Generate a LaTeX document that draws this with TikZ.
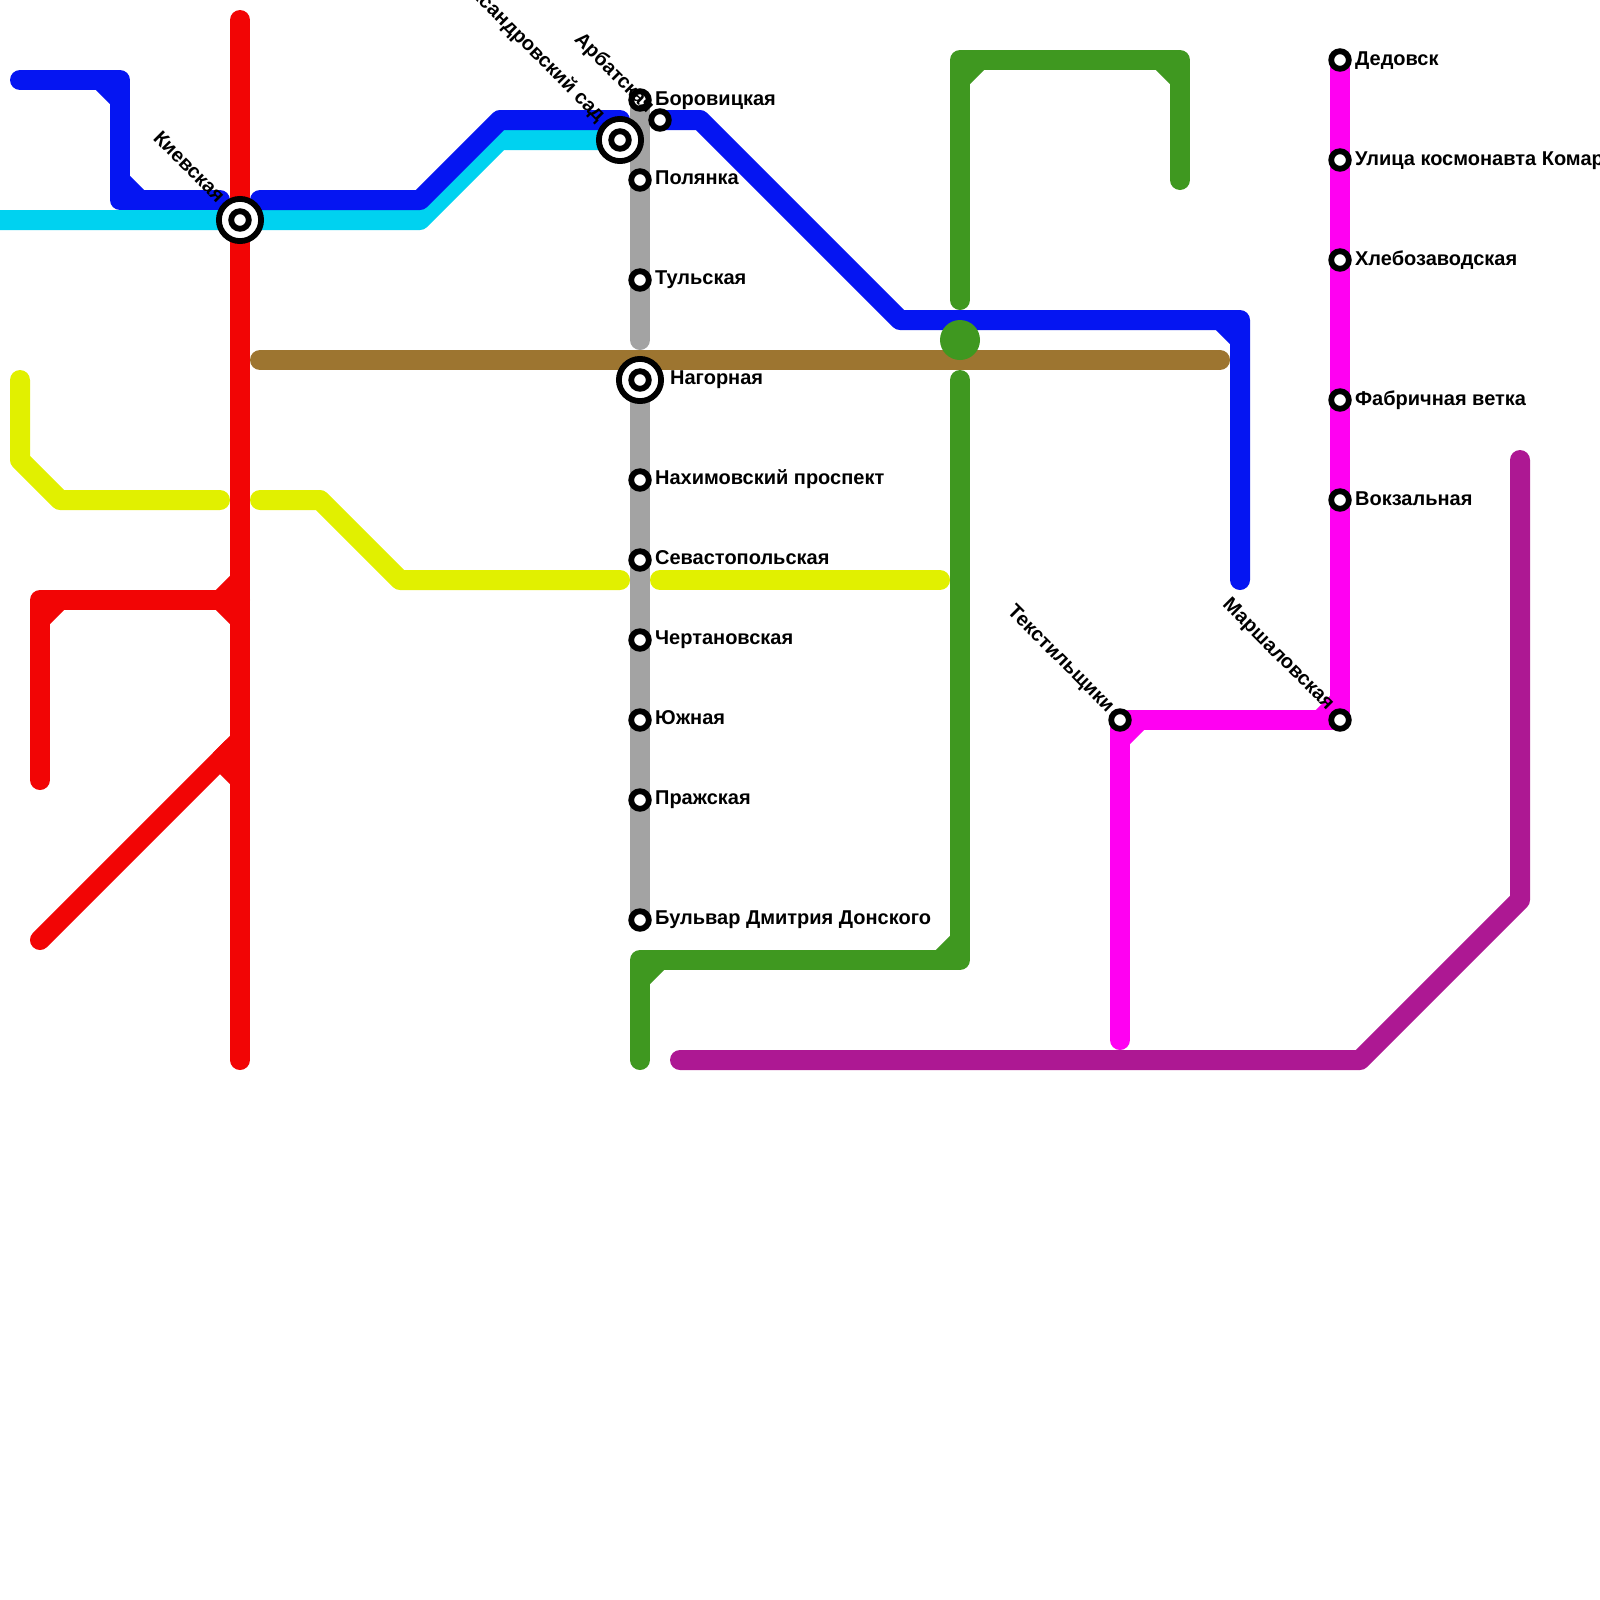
\documentclass[tikz,border=0pt]{standalone}
\usepackage{fontspec}
\setmainfont{Liberation Sans}
\definecolor{lblue}{HTML}{0515F2}
\definecolor{lcyan}{HTML}{00D2F0}
\definecolor{lred}{HTML}{F20505}
\definecolor{lgray}{HTML}{A3A3A3}
\definecolor{lbrown}{HTML}{9D7530}
\definecolor{lgreen}{HTML}{3F9820}
\definecolor{lyellow}{HTML}{E1F000}
\definecolor{lpink}{HTML}{FF00F2}
\definecolor{lpurple}{HTML}{AD1893}
\tikzset{
  metro/.style={line width=20*0.05cm,line cap=round,line join=round},
  chamfer/.style={line width=20*0.05cm,line cap=butt},
  mstop/.style={circle,draw=black,fill=white,line width=5.8*0.05cm,minimum size=17.6*0.05cm,inner sep=0pt,outer sep=0pt},
  bigstop/.style={circle,draw=black,fill=white,line width=5.8*0.05cm,minimum size=42.2*0.05cm,inner sep=0pt,outer sep=0pt},
  stname/.style={font=\fontsize{28.45}{30}\selectfont\bfseries,inner sep=0pt,text=black},
  rname/.style={stname,anchor=base east,rotate=-45},
  lname/.style={stname,anchor=base west},
}
\begin{document}
\begin{tikzpicture}[x=0.05cm,y=-0.05cm]
\useasboundingbox (0,0) rectangle (1600,1600);
% cyan
\draw[metro,lcyan,line cap=butt] (-20,220) -- (420,220) -- (500,140) -- (620,140);
% blue
\draw[metro,lblue] (20,80) -- (120,80) -- (120,200) -- (220,200);
\draw[chamfer,lblue] (100,80) -- (120,100);
\draw[chamfer,lblue] (120,180) -- (140,200);
\draw[metro,lblue] (260,200) -- (420,200) -- (500,120) -- (620,120);
\draw[metro,lblue] (660,120) -- (700,120) -- (900,320) -- (1240,320) -- (1240,580);
\draw[chamfer,lblue] (1220,320) -- (1240,340);
% brown
\draw[metro,lbrown] (260,360) -- (1220,360);
% gray
\draw[metro,lgray] (640,100) -- (640,340);
\draw[metro,lgray] (640,390) -- (640,920);
% yellow
\draw[metro,lyellow] (20,380) -- (20,460) -- (60,500) -- (220,500);
\draw[metro,lyellow] (260,500) -- (320,500) -- (400,580) -- (620,580);
\draw[metro,lyellow] (660,580) -- (940,580);
% red
\draw[metro,lred] (240,20) -- (240,1060);
\draw[metro,lred] (240,600) -- (40,600) -- (40,780);
\draw[chamfer,lred] (40,620) -- (60,600);
\draw[chamfer,lred] (220,600) -- (240,580);
\draw[chamfer,lred] (220,600) -- (240,620);
\draw[metro,lred] (40,940) -- (232,748);
\draw[chamfer,lred] (220,760) -- (240,740);
\draw[chamfer,lred] (220,760) -- (240,780);
% green
\draw[metro,lgreen] (960,300) -- (960,60) -- (1180,60) -- (1180,180);
\draw[chamfer,lgreen] (960,80) -- (980,60);
\draw[chamfer,lgreen] (1160,60) -- (1180,80);
\draw[metro,lgreen] (960,380) -- (960,960) -- (640,960) -- (640,1060);
\draw[chamfer,lgreen] (940,960) -- (960,940);
\draw[chamfer,lgreen] (640,980) -- (660,960);
\fill[lgreen] (960,340) circle (20);
% purple
\draw[metro,lpurple] (680,1060) -- (1360,1060) -- (1520,900) -- (1520,460);
% pink
\draw[metro,lpink] (1340,60) -- (1340,720) -- (1120,720) -- (1120,1040);
\draw[chamfer,lpink] (1320,720) -- (1340,700);
\draw[chamfer,lpink] (1120,740) -- (1140,720);
% interchange stations
\node[bigstop] (kiev) at (240,220) {};
\node[mstop] (kievi) at (240,220) {};
\node[bigstop] (alex) at (620,140) {};
\node[mstop] (alexi) at (620,140) {};
\node[bigstop] (nag) at (640,380) {};
\node[mstop] (nagi) at (640,380) {};
% stations
\node[mstop] (bor) at (640,100) {};
\node[mstop] (arb) at (660,120) {};
\node[mstop] (pol) at (640,180) {};
\node[mstop] (tul) at (640,280) {};
\node[mstop] (nah) at (640,480) {};
\node[mstop] (sev) at (640,560) {};
\node[mstop] (che) at (640,640) {};
\node[mstop] (yuz) at (640,720) {};
\node[mstop] (pra) at (640,800) {};
\node[mstop] (bul) at (640,920) {};
\node[mstop] (ded) at (1340,60) {};
\node[mstop] (uli) at (1340,160) {};
\node[mstop] (hle) at (1340,260) {};
\node[mstop] (fab) at (1340,400) {};
\node[mstop] (vok) at (1340,500) {};
\node[mstop] (mar) at (1340,720) {};
\node[mstop] (tek) at (1120,720) {};
% labels
\node[rname] (lkiev) at (217,204) {Киевская};
\node[rname] (lalex) at (598,123) {Александровский сад};
\node[rname] (larb) at (647,114) {Арбатская};
\node[rname] (ltek) at (1107,713) {Текстильщики};
\node[rname] (lmar) at (1327,711) {Маршаловская};
\node[lname] (lbor) at (655,105) {Боровицкая};
\node[lname] (lpol) at (655,184) {Полянка};
\node[lname] (ltul) at (655,284) {Тульская};
\node[lname] (lnag) at (670,384) {Нагорная};
\node[lname] (lnah) at (655,484) {Нахимовский проспект};
\node[lname] (lsev) at (655,564) {Севастопольская};
\node[lname] (lche) at (655,644) {Чертановская};
\node[lname] (lyuz) at (655,724) {Южная};
\node[lname] (lpra) at (655,804) {Пражская};
\node[lname] (lbul) at (655,924) {Бульвар Дмитрия Донского};
\node[lname] (lded) at (1355,65) {Дедовск};
\node[lname] (luli) at (1355,165) {Улица космонавта Комарова};
\node[lname] (lhle) at (1355,265) {Хлебозаводская};
\node[lname] (lfab) at (1355,405) {Фабричная ветка};
\node[lname] (lvok) at (1355,505) {Вокзальная};
\end{tikzpicture}
\end{document}
